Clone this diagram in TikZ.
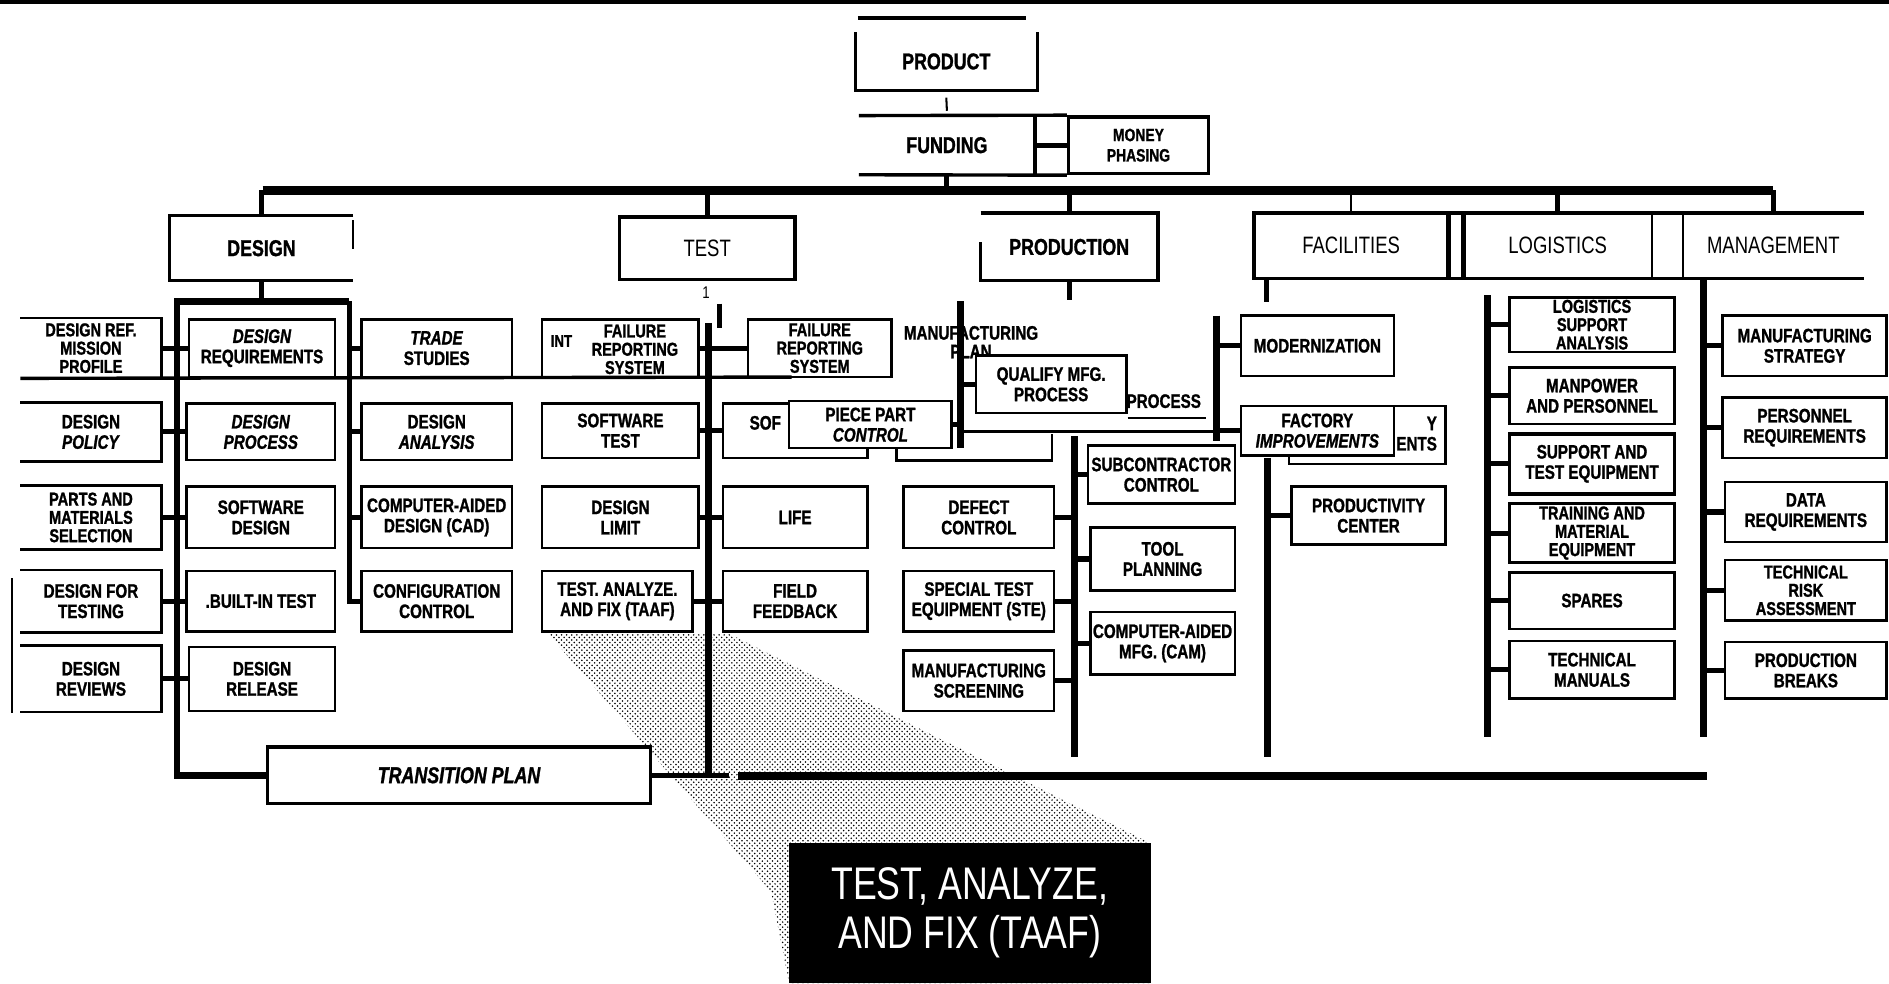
\documentclass[tikz,border=0pt]{standalone}
\usepackage{fontspec}
\newfontfamily\condf{Liberation Sans}[FakeStretch=0.78,BoldFeatures={FakeBold=1.2},BoldItalicFeatures={FakeBold=1.2}]
\usetikzlibrary{patterns,calc}
\newcommand{\mybox}[7][]{\node[bx,minimum width={(#5-(#3))*0.025cm},minimum height={(#6-(#4))*0.025cm},#1] (#2) at ({(#3+#5)/2},{(#4+#6)/2}) {#7};}
\begin{document}
\begin{tikzpicture}[x=0.025cm,y=-0.025cm,
 bx/.style={draw,line width=1.5pt,fill=white,align=center,inner sep=0pt,font=\condf\bfseries\fontsize{11.5}{12}\selectfont},
 nb/.style={bx,draw=none},
 three/.style={font=\condf\bfseries\fontsize{11}{10.8}\selectfont},
 hdr/.style={font=\condf\bfseries\fontsize{13.5}{14}\selectfont},
 hdrr/.style={font=\condf\fontsize{14}{15}\selectfont},
 txt/.style={inner sep=0pt,align=center,font=\condf\bfseries\fontsize{11.5}{12}\selectfont},
 bus/.style={line width=4pt},
 cn/.style={line width=3pt},
 bord/.style={line width=1.5pt}]
\useasboundingbox (0,0) rectangle (1568,816);

% stippled beam
\fill[pattern=crosshatch dots, pattern color=black] (455,526) -- (605,526) -- (955,700) -- (955,816) -- (655,816) -- (640,740) -- cycle;

% top frame line
\coordinate (fr1) at (0,1.5); \coordinate (fr2) at (1568,1.5);
\draw[line width=3pt] (fr1) -- (fr2);

% PRODUCT / FUNDING
\coordinate (pt1) at (712,15); \coordinate (pt2) at (852,15);
\draw[line width=2.5pt] (pt1) -- (pt2);
\mybox[nb,hdr]{product}{711}{28}{860}{74}{PRODUCT}
\draw[bord,line width=2pt] (product.north west) -- (product.south west) -- (product.south east) -- (product.north east);
\mybox[nb,hdr]{funding}{714}{97}{858}{144}{FUNDING}
\mybox[font=\condf\bfseries\fontsize{10.5}{12}\selectfont,line width=2pt]{money}{887}{97}{1003}{144}{MONEY\\PHASING}
\draw[bord,line width=2pt] (funding.north west) -- (money.north west);
\draw[bord,line width=2pt] (funding.south west) -- (money.south west);
\draw[bord,line width=2pt] (funding.north east) -- (funding.south east);
\draw[cn] (funding.east) -- (money.west);
\draw[line width=1.2pt] ($(product.south)+(0,6)$) -- ($(funding.north)+(0,-4)$);

% main bus
\coordinate (busL) at (218,158); \coordinate (busR) at (1472,158);
\draw[line width=5pt] (busL) -- (busR);
\draw[cn] (funding.south) -- (funding.south |- busL);

% second level
\mybox[nb,hdr]{design}{142}{180}{292}{232}{DESIGN}
\draw[bord,line width=2pt] (design.north east) -- (design.north west) -- (design.south west) -- (design.south east);
\draw[line width=0.7pt] ($(design.north east)+(0,4)$) -- ($(design.north east)+(0,28)$);
\draw[cn] (design.north |- busL) -- (design.north);

\mybox[hdrr,line width=2pt]{test}{514}{180}{660}{232}{TEST}
\draw[cn] (test.north |- busL) -- (test.north);
\node[inner sep=0pt,font=\condf\fontsize{10}{10}\selectfont] (one) at (586,243) {1};

\mybox[nb,hdr]{prod}{815}{178}{960}{232}{PRODUCTION}
\draw[bord,line width=2pt] (prod.north west) -- (prod.north east) -- (prod.south east) -- (prod.south west) -- ($(prod.south west)+(0,-32)$);
\draw[cn] (prod.north |- busL) -- (prod.north);

\mybox[nb,hdrr]{fac}{1042}{178}{1201}{230}{FACILITIES}
\mybox[nb,hdrr]{logi}{1216}{178}{1370}{230}{LOGISTICS}
\mybox[nb,hdrr]{mgmt}{1398}{178}{1546}{230}{MANAGEMENT}
\draw[bord,line width=2pt] (mgmt.north east) -- (fac.north west) -- (fac.south west) -- (mgmt.south east);
\draw[line width=3pt] (fac.north east) -- (fac.south east);
\draw[line width=3pt] (logi.north west) -- (logi.south west);
\draw[line width=1.2pt] (logi.north east) -- (logi.south east);
\draw[line width=1.2pt] (mgmt.north west) -- (mgmt.south west);
\draw[line width=1.2pt] (fac.north |- busL) -- (fac.north);
\draw[cn] (logi.north |- busL) -- (logi.north);
\draw[cn] (mgmt.north |- busR) -- (mgmt.north);

% ---------------- DESIGN branch
\mybox[nb,three]{dl1}{18}{265}{133}{313}{DESIGN REF.\\MISSION\\PROFILE}
\mybox[nb]{dl2}{18}{335}{133}{382}{DESIGN\\\textit{POLICY}}
\mybox[nb,three]{dl3}{18}{404}{133}{455}{PARTS AND\\MATERIALS\\SELECTION}
\mybox[nb]{dl4}{18}{474}{133}{524}{DESIGN FOR\\TESTING}
\mybox[nb]{dl5}{18}{537}{133}{590}{DESIGN\\REVIEWS}
\draw[bord] (dl1.north west) -- (dl1.north east) -- (dl1.south east);
\foreach \n in {dl2,dl3,dl4,dl5}
  \draw[bord] (\n.north west) -- (\n.north east) -- (\n.south east) -- (\n.south west);
\coordinate (s1) at (10,480); \coordinate (s2) at (10,592);
\draw[line width=0.8pt] (s1) -- (s2);

\mybox{dm1}{157}{265}{278}{313}{\textit{DESIGN}\\REQUIREMENTS}
\mybox{dm2}{155}{335}{278}{382}{\textit{DESIGN}\\\textit{PROCESS}}
\mybox{dm3}{155}{404}{278}{455}{SOFTWARE\\DESIGN}
\mybox{dm4}{155}{474}{278}{524}{.BUILT-IN TEST}
\mybox{dm5}{157}{537}{278}{590}{DESIGN\\RELEASE}

\mybox{dr1}{300}{265}{425}{313}{\textit{TRADE}\\STUDIES}
\mybox{dr2}{300}{335}{425}{382}{DESIGN\\\textit{ANALYSIS}}
\mybox{dr3}{300}{404}{425}{455}{COMPUTER-AIDED\\DESIGN (CAD)}
\mybox{dr4}{300}{474}{425}{524}{CONFIGURATION\\CONTROL}

\mybox[font=\condf\bfseries\itshape\fontsize{13.5}{14}\selectfont,line width=2pt]{tp}{222}{620}{540}{667}{TRANSITION PLAN}

\coordinate (dL) at (147,250); \coordinate (dR) at (290,250);
\draw[cn] (design.south) -- (design.south |- dL);
\draw[bus] (dR) -- (dL) -- (dL |- tp.west) -- (tp.west);
\draw[line width=3pt] (dR) -- (dR |- dr4.west) -- (dr4.west);
\foreach \n in {dl1,dl2,dl3,dl4,dl5} \draw[cn] (\n.east) -- (\n.east -| dL);
\foreach \n in {dm1,dm2,dm3,dm4,dm5} \draw[cn] (\n.west -| dL) -- (\n.west);
\foreach \n in {dr1,dr2,dr3} \draw[cn] (\n.west -| dR) -- (\n.west);

% ---------------- TEST branch
\mybox{tl1}{450}{265}{580}{313}{}
\node[txt,three] (tl1t) at (527,290) {FAILURE\\REPORTING\\SYSTEM};
\node[txt,font=\condf\bfseries\fontsize{10}{10}\selectfont] (tl1i) at (466,283) {INT};
\mybox{tl2}{450}{335}{580}{380}{SOFTWARE\\TEST}
\mybox{tl3}{450}{404}{580}{455}{DESIGN\\LIMIT}
\mybox{tl4}{450}{474}{575}{524}{TEST. ANALYZE.\\AND FIX (TAAF)}

\mybox[three]{tr1}{621}{265}{740}{313}{FAILURE\\REPORTING\\SYSTEM}
\node[txt,font=\condf\bfseries\fontsize{11.5}{11}\selectfont] (mfgplan) at (806,284) {MANUFACTURING\\PLAN};
\mybox{tr2}{600}{335}{720}{380}{}
\node[txt,anchor=west] (tr2t) at (622,351) {SOF};
\mybox[nb]{pc2}{745}{340}{872}{381}{}
\draw[bord] (pc2.west) -- (pc2.south west) -- (pc2.south east) -- (pc2.east);
\mybox{pp}{655}{333}{790}{372}{PIECE PART\\\textit{CONTROL}}
\mybox{tr3}{600}{404}{720}{455}{LIFE}
\mybox{tr4}{600}{474}{720}{524}{FIELD\\FEEDBACK}

\coordinate (ll) at (657,313);
\draw[line width=2pt] (dl1.south west) -- (ll);

\coordinate (tT) at (588,268); \coordinate (tB) at (588,646);
\draw[bus] (tT) -- (tB);
\coordinate (ts1) at (597,252); \coordinate (ts2) at (597,272);
\draw[cn] (ts1) -- (ts2);
\foreach \n in {tl1,tl2,tl3,tl4} \draw[cn] (\n.east) -- (\n.east -| tB);
\foreach \n in {tr2,tr3,tr4} \draw[cn] (\n.west -| tB) -- (\n.west);
\draw[cn] (tB |- tr1.west) -- (tr1.west);
\draw[cn] (tp.east) -- ($(tp.east -| tB)+(17,0)$);

% ---------------- PRODUCTION branch
\node[txt] (proc2) at (966,333) {PROCESS};
\coordinate (plA) at (800,358); \coordinate (plB) at (1012,358);
\draw[bord] (plA) -- (plB);
\mybox{qual}{810}{295}{935}{343}{QUALIFY MFG.\\PROCESS}
\draw[bord] ($(qual.south east)+(0,3)$) -- ++(65,0);

\coordinate (pA) at (797,250); \coordinate (pAb) at (797,372);
\draw[bus] (pA) -- (pAb);
\draw[cn] (prod.south) -- ++(0,16);
\draw[cn] (pp.east) -- (pp.east -| pA);
\draw[cn] (pA |- qual.west) -- (qual.west);

\mybox{pd1}{750}{404}{875}{455}{DEFECT\\CONTROL}
\mybox{pd2}{750}{474}{875}{524}{SPECIAL TEST\\EQUIPMENT (STE)}
\mybox{pd3}{750}{540}{875}{590}{MANUFACTURING\\SCREENING}
\mybox{pe1}{903}{370}{1025}{418}{SUBCONTRACTOR\\CONTROL}
\mybox{pe2}{905}{438}{1025}{490}{TOOL\\PLANNING}
\mybox{pe3}{905}{508}{1025}{560}{COMPUTER-AIDED\\MFG. (CAM)}
\coordinate (pB) at (892,362); \coordinate (pBb) at (892,628);
\draw[bus] (pB) -- (pBb);
\foreach \n in {pd1,pd2,pd3} \draw[cn] (\n.east) -- (\n.east -| pB);
\foreach \n in {pe1,pe2,pe3} \draw[cn] (\n.west -| pB) -- (\n.west);

% ---------------- FACILITIES branch
\mybox{fa1}{1030}{262}{1157}{312}{MODERNIZATION}
\mybox{fa2b}{1070}{337}{1200}{385}{}
\node[txt,align=right,anchor=east] (fa2bt) at (1193,360) {Y\\ENTS};
\mybox{fa2}{1030}{337}{1157}{378}{FACTORY\\\textit{IMPROVEMENTS}}
\mybox{fa3}{1072}{404}{1200}{452}{PRODUCTIVITY\\CENTER}
\coordinate (fA) at (1010,262); \coordinate (fAb) at (1010,366);
\draw[bus] (fA) -- (fAb);
\draw[cn] (fA |- fa1.west) -- (fa1.west);
\draw[cn] (fA |- fa2.west) -- (fa2.west);
\draw[cn] ($(fac.south west)+(10,0)$) -- ++(0,20);
\coordinate (fB) at (1052,380); \coordinate (fBb) at (1052,628);
\draw[bus] (fB) -- (fBb);
\draw[cn] (fB |- fa3.west) -- (fa3.west);

% ---------------- LOGISTICS branch
\mybox[three]{lg1}{1253}{247}{1390}{292}{LOGISTICS\\SUPPORT\\ANALYSIS}
\mybox{lg2}{1253}{305}{1390}{352}{MANPOWER\\AND PERSONNEL}
\mybox[line width=2.2pt]{lg3}{1253}{360}{1390}{410}{SUPPORT AND\\TEST EQUIPMENT}
\mybox[three]{lg4}{1253}{418}{1390}{467}{TRAINING AND\\MATERIAL\\EQUIPMENT}
\mybox{lg5}{1253}{475}{1390}{522}{SPARES}
\mybox{lg6}{1253}{532}{1390}{580}{TECHNICAL\\MANUALS}
\coordinate (lA) at (1235,245); \coordinate (lAb) at (1235,612);
\draw[bus] (lA) -- (lAb);
\foreach \n in {lg1,lg2,lg3,lg4,lg5,lg6} \draw[cn] (\n.west -| lA) -- (\n.west);

% ---------------- MANAGEMENT branch
\mybox{mg1}{1430}{262}{1566}{312}{MANUFACTURING\\STRATEGY}
\mybox{mg2}{1430}{330}{1566}{380}{PERSONNEL\\REQUIREMENTS}
\mybox{mg3}{1432}{400}{1566}{450}{DATA\\REQUIREMENTS}
\mybox[three]{mg4}{1432}{465}{1566}{515}{TECHNICAL\\RISK\\ASSESSMENT}
\mybox{mg5}{1432}{533}{1566}{580}{PRODUCTION\\BREAKS}
\coordinate (mA) at (1414,230); \coordinate (mAb) at (1414,612);
\draw[bus] (mA) -- (mAb);
\foreach \n in {mg1,mg2,mg3,mg4,mg5} \draw[cn] (\n.west -| mA) -- (\n.west);

% bottom bus
\coordinate (bb1) at (613,644); \coordinate (bb2) at (1417,644);
\draw[line width=5pt] (bb1) -- (bb2);

% TAAF callout
\node[fill=black,text=white,inner sep=0pt,align=center,minimum width={300*0.025cm},minimum height={116*0.025cm},font=\condf\fontsize{27}{29}\selectfont] (taaf) at (805,758) {TEST, ANALYZE,\\AND FIX (TAAF)};
\end{tikzpicture}
\end{document}
